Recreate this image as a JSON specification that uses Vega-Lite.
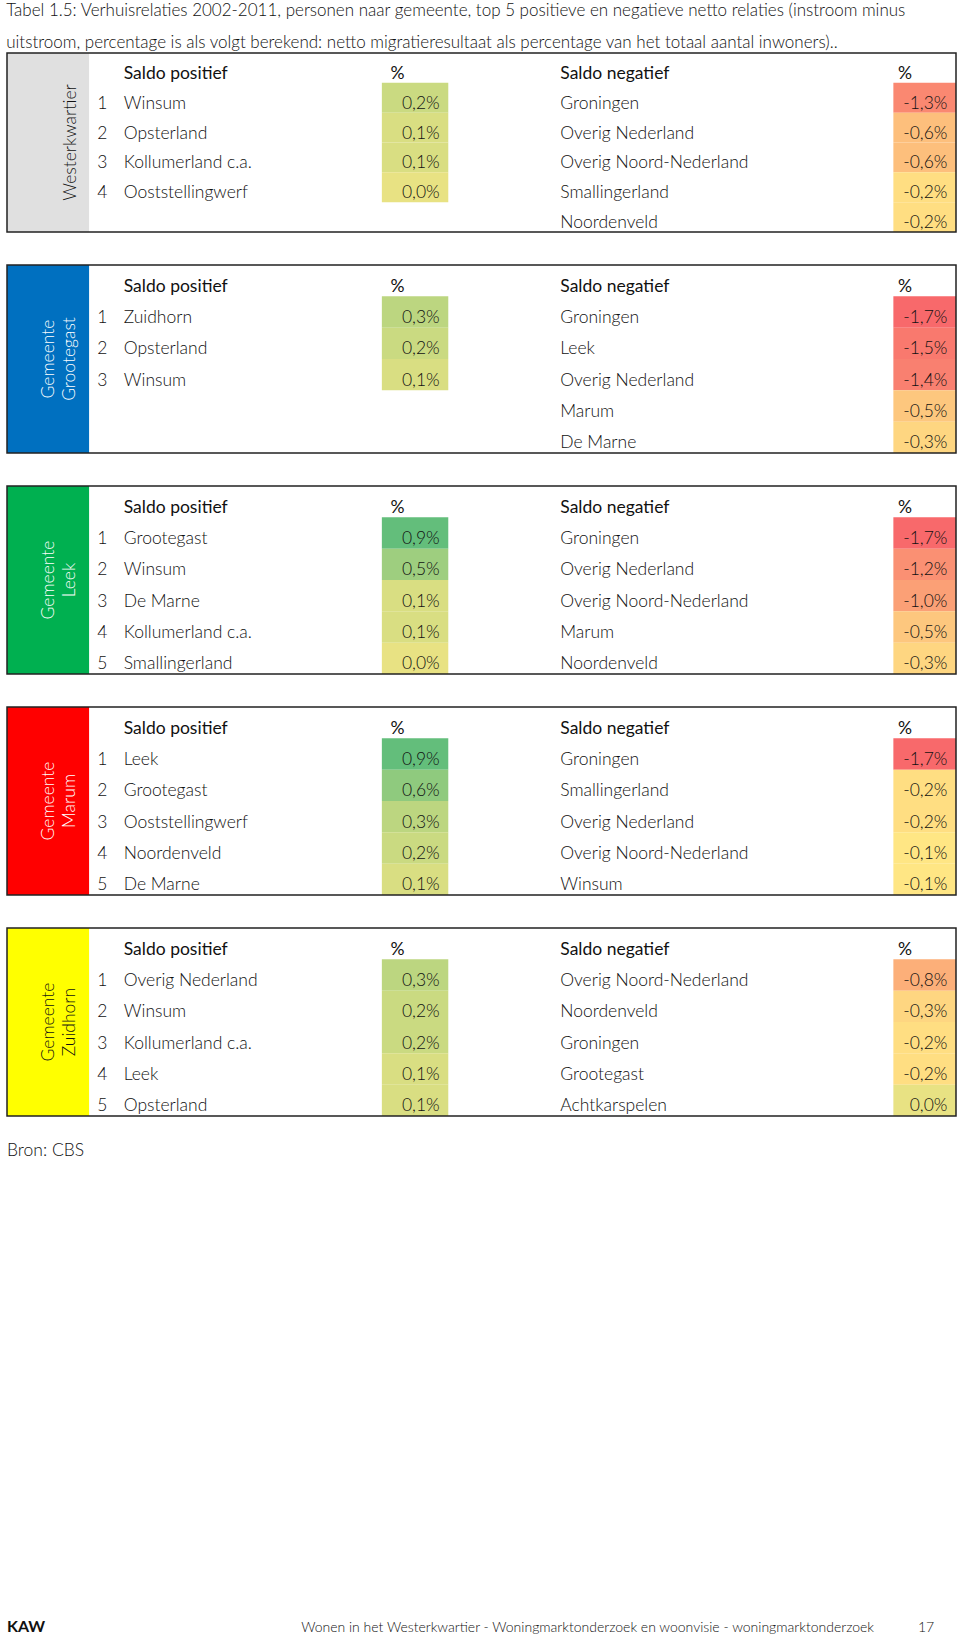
{
"$schema": "https://vega.github.io/schema/vega-lite/v6.json",
"padding": {"left": 6, "right": 5, "top": 2, "bottom": 0},
"bounds": "flush",
"background": "white",
"title": {"text": ["Tabel 1.5: Verhuisrelaties 2002-2011, personen naar gemeente, top 5 positieve en negatieve netto relaties (instroom minus", "uitstroom, percentage is als volgt berekend: netto migratieresultaat als percentage van het totaal aantal inwoners).."], "anchor": "start", "font": "Lato", "fontSize": 17, "fontWeight": 300, "color": "#111", "lineHeight": 32, "offset": 0},
"datasets": {"rows": [
{"block": "Westerkwartier", "side": "pos", "rank": 1, "name": "Winsum", "value": 0.002},
{"block": "Westerkwartier", "side": "pos", "rank": 2, "name": "Opsterland", "value": 0.001},
{"block": "Westerkwartier", "side": "pos", "rank": 3, "name": "Kollumerland c.a.", "value": 0.001},
{"block": "Westerkwartier", "side": "pos", "rank": 4, "name": "Ooststellingwerf", "value": 0.0},
{"block": "Westerkwartier", "side": "neg", "rank": 1, "name": "Groningen", "value": -0.013},
{"block": "Westerkwartier", "side": "neg", "rank": 2, "name": "Overig Nederland", "value": -0.006},
{"block": "Westerkwartier", "side": "neg", "rank": 3, "name": "Overig Noord-Nederland", "value": -0.006},
{"block": "Westerkwartier", "side": "neg", "rank": 4, "name": "Smallingerland", "value": -0.002},
{"block": "Westerkwartier", "side": "neg", "rank": 5, "name": "Noordenveld", "value": -0.002},
{"block": "Grootegast", "side": "pos", "rank": 1, "name": "Zuidhorn", "value": 0.003},
{"block": "Grootegast", "side": "pos", "rank": 2, "name": "Opsterland", "value": 0.002},
{"block": "Grootegast", "side": "pos", "rank": 3, "name": "Winsum", "value": 0.001},
{"block": "Grootegast", "side": "neg", "rank": 1, "name": "Groningen", "value": -0.017},
{"block": "Grootegast", "side": "neg", "rank": 2, "name": "Leek", "value": -0.015},
{"block": "Grootegast", "side": "neg", "rank": 3, "name": "Overig Nederland", "value": -0.014},
{"block": "Grootegast", "side": "neg", "rank": 4, "name": "Marum", "value": -0.005},
{"block": "Grootegast", "side": "neg", "rank": 5, "name": "De Marne", "value": -0.003},
{"block": "Leek", "side": "pos", "rank": 1, "name": "Grootegast", "value": 0.009},
{"block": "Leek", "side": "pos", "rank": 2, "name": "Winsum", "value": 0.005},
{"block": "Leek", "side": "pos", "rank": 3, "name": "De Marne", "value": 0.001},
{"block": "Leek", "side": "pos", "rank": 4, "name": "Kollumerland c.a.", "value": 0.001},
{"block": "Leek", "side": "pos", "rank": 5, "name": "Smallingerland", "value": 0.0},
{"block": "Leek", "side": "neg", "rank": 1, "name": "Groningen", "value": -0.017},
{"block": "Leek", "side": "neg", "rank": 2, "name": "Overig Nederland", "value": -0.012},
{"block": "Leek", "side": "neg", "rank": 3, "name": "Overig Noord-Nederland", "value": -0.010},
{"block": "Leek", "side": "neg", "rank": 4, "name": "Marum", "value": -0.005},
{"block": "Leek", "side": "neg", "rank": 5, "name": "Noordenveld", "value": -0.003},
{"block": "Marum", "side": "pos", "rank": 1, "name": "Leek", "value": 0.009},
{"block": "Marum", "side": "pos", "rank": 2, "name": "Grootegast", "value": 0.006},
{"block": "Marum", "side": "pos", "rank": 3, "name": "Ooststellingwerf", "value": 0.003},
{"block": "Marum", "side": "pos", "rank": 4, "name": "Noordenveld", "value": 0.002},
{"block": "Marum", "side": "pos", "rank": 5, "name": "De Marne", "value": 0.001},
{"block": "Marum", "side": "neg", "rank": 1, "name": "Groningen", "value": -0.017},
{"block": "Marum", "side": "neg", "rank": 2, "name": "Smallingerland", "value": -0.002},
{"block": "Marum", "side": "neg", "rank": 3, "name": "Overig Nederland", "value": -0.002},
{"block": "Marum", "side": "neg", "rank": 4, "name": "Overig Noord-Nederland", "value": -0.001},
{"block": "Marum", "side": "neg", "rank": 5, "name": "Winsum", "value": -0.001},
{"block": "Zuidhorn", "side": "pos", "rank": 1, "name": "Overig Nederland", "value": 0.003},
{"block": "Zuidhorn", "side": "pos", "rank": 2, "name": "Winsum", "value": 0.002},
{"block": "Zuidhorn", "side": "pos", "rank": 3, "name": "Kollumerland c.a.", "value": 0.002},
{"block": "Zuidhorn", "side": "pos", "rank": 4, "name": "Leek", "value": 0.001},
{"block": "Zuidhorn", "side": "pos", "rank": 5, "name": "Opsterland", "value": 0.001},
{"block": "Zuidhorn", "side": "neg", "rank": 1, "name": "Overig Noord-Nederland", "value": -0.008},
{"block": "Zuidhorn", "side": "neg", "rank": 2, "name": "Noordenveld", "value": -0.003},
{"block": "Zuidhorn", "side": "neg", "rank": 3, "name": "Groningen", "value": -0.002},
{"block": "Zuidhorn", "side": "neg", "rank": 4, "name": "Grootegast", "value": -0.002},
{"block": "Zuidhorn", "side": "neg", "rank": 5, "name": "Achtkarspelen", "value": 0.0}
]},
"spacing": 33,
"vconcat": [
{"width": 949, "height": 179,
 "layer": [
  {"data": {"values": [{}]}, "mark": {"type": "rect", "fill": "#E0E0E0"}, "encoding": {"x": {"datum": 0, "type": "quantitative", "scale": {"domain": [0, 100], "nice": false, "zero": false}, "axis": null}, "x2": {"datum": 8.65}}},
  {"data": {"values": [{}]}, "mark": {"type": "text", "text": ["Westerkwartier"], "angle": 270, "align": "center", "baseline": "bottom", "lineHeight": 21, "fontSize": 17.5, "fill": "#111", "fontWeight": 300}, "encoding": {"x": {"datum": 7.69, "type": "quantitative"}}},
  {"data": {"values": [{"rank": 0, "a": "Saldo positief"}]}, "mark": {"type": "text", "align": "left", "baseline": "alphabetic", "dy": 11}, "encoding": {"x": {"datum": 12.3, "type": "quantitative"}, "y": {"field": "rank", "type": "ordinal", "scale": {"type": "band", "domain": [0, 1, 2, 3, 4, 5], "paddingInner": 0, "paddingOuter": 0}, "axis": null}, "text": {"field": "a"}}},
  {"data": {"values": [{"rank": 0, "b": "%"}]}, "mark": {"type": "text", "align": "left", "baseline": "alphabetic", "dy": 11}, "encoding": {"x": {"datum": 40.4, "type": "quantitative"}, "y": {"field": "rank", "type": "ordinal"}, "text": {"field": "b"}}},
  {"data": {"values": [{"rank": 0, "c": "Saldo negatief"}]}, "mark": {"type": "text", "align": "left", "baseline": "alphabetic", "dy": 11}, "encoding": {"x": {"datum": 58.3, "type": "quantitative"}, "y": {"field": "rank", "type": "ordinal"}, "text": {"field": "c"}}},
  {"data": {"values": [{"rank": 0, "b": "%"}]}, "mark": {"type": "text", "align": "left", "baseline": "alphabetic", "dy": 11}, "encoding": {"x": {"datum": 93.9, "type": "quantitative"}, "y": {"field": "rank", "type": "ordinal"}, "text": {"field": "b"}}},
  {"data": {"name": "rows"}, "transform": [{"filter": "datum.block === 'Westerkwartier' && datum.side === 'pos'"}], "mark": {"type": "rect"}, "encoding": {"x": {"datum": 39.5, "type": "quantitative"}, "x2": {"datum": 46.5}, "y": {"field": "rank", "type": "ordinal"}, "color": {"field": "value", "type": "quantitative", "scale": {"domain": [-0.017, -0.001, 0.0, 0.009], "range": ["#F8696B", "#FFE684", "#E8E283", "#63BE7B"], "interpolate": "rgb"}, "legend": null}}},
  {"data": {"name": "rows"}, "transform": [{"filter": "datum.block === 'Westerkwartier' && datum.side === 'neg'"}], "mark": {"type": "rect"}, "encoding": {"x": {"datum": 93.4, "type": "quantitative"}, "x2": {"datum": 100}, "y": {"field": "rank", "type": "ordinal"}, "color": {"field": "value", "type": "quantitative", "legend": null}}},
  {"data": {"name": "rows"}, "transform": [{"filter": "datum.block === 'Westerkwartier' && datum.side === 'pos'"}], "mark": {"type": "text", "align": "left", "baseline": "alphabetic", "dy": 11, "fontWeight": 300}, "encoding": {"x": {"datum": 9.5, "type": "quantitative"}, "y": {"field": "rank", "type": "ordinal"}, "text": {"field": "rank", "type": "nominal"}}},
  {"data": {"name": "rows"}, "transform": [{"filter": "datum.block === 'Westerkwartier' && datum.side === 'pos'"}], "mark": {"type": "text", "align": "left", "baseline": "alphabetic", "dy": 11, "fontWeight": 300}, "encoding": {"x": {"datum": 12.3, "type": "quantitative"}, "y": {"field": "rank", "type": "ordinal"}, "text": {"field": "name", "type": "nominal"}}},
  {"data": {"name": "rows"}, "transform": [{"filter": "datum.block === 'Westerkwartier' && datum.side === 'pos'"}, {"calculate": "replace(replace(format(datum.value, '.1%'), '.', ','), '\u2212', '-')", "as": "label"}], "mark": {"type": "text", "align": "right", "baseline": "alphabetic", "dy": 11, "fontWeight": 300}, "encoding": {"x": {"datum": 45.6, "type": "quantitative"}, "y": {"field": "rank", "type": "ordinal"}, "text": {"field": "label", "type": "nominal"}}},
  {"data": {"name": "rows"}, "transform": [{"filter": "datum.block === 'Westerkwartier' && datum.side === 'neg'"}], "mark": {"type": "text", "align": "left", "baseline": "alphabetic", "dy": 11, "fontWeight": 300}, "encoding": {"x": {"datum": 58.3, "type": "quantitative"}, "y": {"field": "rank", "type": "ordinal"}, "text": {"field": "name", "type": "nominal"}}},
  {"data": {"name": "rows"}, "transform": [{"filter": "datum.block === 'Westerkwartier' && datum.side === 'neg'"}, {"calculate": "replace(replace(format(datum.value, '.1%'), '.', ','), '\u2212', '-')", "as": "label"}], "mark": {"type": "text", "align": "right", "baseline": "alphabetic", "dy": 11, "fontWeight": 300}, "encoding": {"x": {"datum": 99.1, "type": "quantitative"}, "y": {"field": "rank", "type": "ordinal"}, "text": {"field": "label", "type": "nominal"}}},
  {"data": {"values": [{}]}, "mark": {"type": "rect", "fill": "transparent", "stroke": "#222", "strokeWidth": 1.5}, "encoding": {"x": {"datum": 0, "type": "quantitative"}, "x2": {"datum": 100}}}
 ]},
{"width": 949, "height": 188,
 "layer": [
  {"data": {"values": [{}]}, "mark": {"type": "rect", "fill": "#0070C0"}, "encoding": {"x": {"datum": 0, "type": "quantitative", "scale": {"domain": [0, 100], "nice": false, "zero": false}, "axis": null}, "x2": {"datum": 8.65}}},
  {"data": {"values": [{}]}, "mark": {"type": "text", "text": ["Gemeente", "Grootegast"], "angle": 270, "align": "center", "baseline": "bottom", "lineHeight": 21, "fontSize": 17.5, "fill": "#FFFFFF", "fontWeight": 300}, "encoding": {"x": {"datum": 5.37, "type": "quantitative"}}},
  {"data": {"values": [{"rank": 0, "a": "Saldo positief"}]}, "mark": {"type": "text", "align": "left", "baseline": "alphabetic", "dy": 11}, "encoding": {"x": {"datum": 12.3, "type": "quantitative"}, "y": {"field": "rank", "type": "ordinal", "scale": {"type": "band", "domain": [0, 1, 2, 3, 4, 5], "paddingInner": 0, "paddingOuter": 0}, "axis": null}, "text": {"field": "a"}}},
  {"data": {"values": [{"rank": 0, "b": "%"}]}, "mark": {"type": "text", "align": "left", "baseline": "alphabetic", "dy": 11}, "encoding": {"x": {"datum": 40.4, "type": "quantitative"}, "y": {"field": "rank", "type": "ordinal"}, "text": {"field": "b"}}},
  {"data": {"values": [{"rank": 0, "c": "Saldo negatief"}]}, "mark": {"type": "text", "align": "left", "baseline": "alphabetic", "dy": 11}, "encoding": {"x": {"datum": 58.3, "type": "quantitative"}, "y": {"field": "rank", "type": "ordinal"}, "text": {"field": "c"}}},
  {"data": {"values": [{"rank": 0, "b": "%"}]}, "mark": {"type": "text", "align": "left", "baseline": "alphabetic", "dy": 11}, "encoding": {"x": {"datum": 93.9, "type": "quantitative"}, "y": {"field": "rank", "type": "ordinal"}, "text": {"field": "b"}}},
  {"data": {"name": "rows"}, "transform": [{"filter": "datum.block === 'Grootegast' && datum.side === 'pos'"}], "mark": {"type": "rect"}, "encoding": {"x": {"datum": 39.5, "type": "quantitative"}, "x2": {"datum": 46.5}, "y": {"field": "rank", "type": "ordinal"}, "color": {"field": "value", "type": "quantitative", "scale": {"domain": [-0.017, -0.001, 0.0, 0.009], "range": ["#F8696B", "#FFE684", "#E8E283", "#63BE7B"], "interpolate": "rgb"}, "legend": null}}},
  {"data": {"name": "rows"}, "transform": [{"filter": "datum.block === 'Grootegast' && datum.side === 'neg'"}], "mark": {"type": "rect"}, "encoding": {"x": {"datum": 93.4, "type": "quantitative"}, "x2": {"datum": 100}, "y": {"field": "rank", "type": "ordinal"}, "color": {"field": "value", "type": "quantitative", "legend": null}}},
  {"data": {"name": "rows"}, "transform": [{"filter": "datum.block === 'Grootegast' && datum.side === 'pos'"}], "mark": {"type": "text", "align": "left", "baseline": "alphabetic", "dy": 11, "fontWeight": 300}, "encoding": {"x": {"datum": 9.5, "type": "quantitative"}, "y": {"field": "rank", "type": "ordinal"}, "text": {"field": "rank", "type": "nominal"}}},
  {"data": {"name": "rows"}, "transform": [{"filter": "datum.block === 'Grootegast' && datum.side === 'pos'"}], "mark": {"type": "text", "align": "left", "baseline": "alphabetic", "dy": 11, "fontWeight": 300}, "encoding": {"x": {"datum": 12.3, "type": "quantitative"}, "y": {"field": "rank", "type": "ordinal"}, "text": {"field": "name", "type": "nominal"}}},
  {"data": {"name": "rows"}, "transform": [{"filter": "datum.block === 'Grootegast' && datum.side === 'pos'"}, {"calculate": "replace(replace(format(datum.value, '.1%'), '.', ','), '\u2212', '-')", "as": "label"}], "mark": {"type": "text", "align": "right", "baseline": "alphabetic", "dy": 11, "fontWeight": 300}, "encoding": {"x": {"datum": 45.6, "type": "quantitative"}, "y": {"field": "rank", "type": "ordinal"}, "text": {"field": "label", "type": "nominal"}}},
  {"data": {"name": "rows"}, "transform": [{"filter": "datum.block === 'Grootegast' && datum.side === 'neg'"}], "mark": {"type": "text", "align": "left", "baseline": "alphabetic", "dy": 11, "fontWeight": 300}, "encoding": {"x": {"datum": 58.3, "type": "quantitative"}, "y": {"field": "rank", "type": "ordinal"}, "text": {"field": "name", "type": "nominal"}}},
  {"data": {"name": "rows"}, "transform": [{"filter": "datum.block === 'Grootegast' && datum.side === 'neg'"}, {"calculate": "replace(replace(format(datum.value, '.1%'), '.', ','), '\u2212', '-')", "as": "label"}], "mark": {"type": "text", "align": "right", "baseline": "alphabetic", "dy": 11, "fontWeight": 300}, "encoding": {"x": {"datum": 99.1, "type": "quantitative"}, "y": {"field": "rank", "type": "ordinal"}, "text": {"field": "label", "type": "nominal"}}},
  {"data": {"values": [{}]}, "mark": {"type": "rect", "fill": "transparent", "stroke": "#222", "strokeWidth": 1.5}, "encoding": {"x": {"datum": 0, "type": "quantitative"}, "x2": {"datum": 100}}}
 ]},
{"width": 949, "height": 188,
 "layer": [
  {"data": {"values": [{}]}, "mark": {"type": "rect", "fill": "#00B050"}, "encoding": {"x": {"datum": 0, "type": "quantitative", "scale": {"domain": [0, 100], "nice": false, "zero": false}, "axis": null}, "x2": {"datum": 8.65}}},
  {"data": {"values": [{}]}, "mark": {"type": "text", "text": ["Gemeente", "Leek"], "angle": 270, "align": "center", "baseline": "bottom", "lineHeight": 21, "fontSize": 17.5, "fill": "#FFFFFF", "fontWeight": 300}, "encoding": {"x": {"datum": 5.37, "type": "quantitative"}}},
  {"data": {"values": [{"rank": 0, "a": "Saldo positief"}]}, "mark": {"type": "text", "align": "left", "baseline": "alphabetic", "dy": 11}, "encoding": {"x": {"datum": 12.3, "type": "quantitative"}, "y": {"field": "rank", "type": "ordinal", "scale": {"type": "band", "domain": [0, 1, 2, 3, 4, 5], "paddingInner": 0, "paddingOuter": 0}, "axis": null}, "text": {"field": "a"}}},
  {"data": {"values": [{"rank": 0, "b": "%"}]}, "mark": {"type": "text", "align": "left", "baseline": "alphabetic", "dy": 11}, "encoding": {"x": {"datum": 40.4, "type": "quantitative"}, "y": {"field": "rank", "type": "ordinal"}, "text": {"field": "b"}}},
  {"data": {"values": [{"rank": 0, "c": "Saldo negatief"}]}, "mark": {"type": "text", "align": "left", "baseline": "alphabetic", "dy": 11}, "encoding": {"x": {"datum": 58.3, "type": "quantitative"}, "y": {"field": "rank", "type": "ordinal"}, "text": {"field": "c"}}},
  {"data": {"values": [{"rank": 0, "b": "%"}]}, "mark": {"type": "text", "align": "left", "baseline": "alphabetic", "dy": 11}, "encoding": {"x": {"datum": 93.9, "type": "quantitative"}, "y": {"field": "rank", "type": "ordinal"}, "text": {"field": "b"}}},
  {"data": {"name": "rows"}, "transform": [{"filter": "datum.block === 'Leek' && datum.side === 'pos'"}], "mark": {"type": "rect"}, "encoding": {"x": {"datum": 39.5, "type": "quantitative"}, "x2": {"datum": 46.5}, "y": {"field": "rank", "type": "ordinal"}, "color": {"field": "value", "type": "quantitative", "scale": {"domain": [-0.017, -0.001, 0.0, 0.009], "range": ["#F8696B", "#FFE684", "#E8E283", "#63BE7B"], "interpolate": "rgb"}, "legend": null}}},
  {"data": {"name": "rows"}, "transform": [{"filter": "datum.block === 'Leek' && datum.side === 'neg'"}], "mark": {"type": "rect"}, "encoding": {"x": {"datum": 93.4, "type": "quantitative"}, "x2": {"datum": 100}, "y": {"field": "rank", "type": "ordinal"}, "color": {"field": "value", "type": "quantitative", "legend": null}}},
  {"data": {"name": "rows"}, "transform": [{"filter": "datum.block === 'Leek' && datum.side === 'pos'"}], "mark": {"type": "text", "align": "left", "baseline": "alphabetic", "dy": 11, "fontWeight": 300}, "encoding": {"x": {"datum": 9.5, "type": "quantitative"}, "y": {"field": "rank", "type": "ordinal"}, "text": {"field": "rank", "type": "nominal"}}},
  {"data": {"name": "rows"}, "transform": [{"filter": "datum.block === 'Leek' && datum.side === 'pos'"}], "mark": {"type": "text", "align": "left", "baseline": "alphabetic", "dy": 11, "fontWeight": 300}, "encoding": {"x": {"datum": 12.3, "type": "quantitative"}, "y": {"field": "rank", "type": "ordinal"}, "text": {"field": "name", "type": "nominal"}}},
  {"data": {"name": "rows"}, "transform": [{"filter": "datum.block === 'Leek' && datum.side === 'pos'"}, {"calculate": "replace(replace(format(datum.value, '.1%'), '.', ','), '\u2212', '-')", "as": "label"}], "mark": {"type": "text", "align": "right", "baseline": "alphabetic", "dy": 11, "fontWeight": 300}, "encoding": {"x": {"datum": 45.6, "type": "quantitative"}, "y": {"field": "rank", "type": "ordinal"}, "text": {"field": "label", "type": "nominal"}}},
  {"data": {"name": "rows"}, "transform": [{"filter": "datum.block === 'Leek' && datum.side === 'neg'"}], "mark": {"type": "text", "align": "left", "baseline": "alphabetic", "dy": 11, "fontWeight": 300}, "encoding": {"x": {"datum": 58.3, "type": "quantitative"}, "y": {"field": "rank", "type": "ordinal"}, "text": {"field": "name", "type": "nominal"}}},
  {"data": {"name": "rows"}, "transform": [{"filter": "datum.block === 'Leek' && datum.side === 'neg'"}, {"calculate": "replace(replace(format(datum.value, '.1%'), '.', ','), '\u2212', '-')", "as": "label"}], "mark": {"type": "text", "align": "right", "baseline": "alphabetic", "dy": 11, "fontWeight": 300}, "encoding": {"x": {"datum": 99.1, "type": "quantitative"}, "y": {"field": "rank", "type": "ordinal"}, "text": {"field": "label", "type": "nominal"}}},
  {"data": {"values": [{}]}, "mark": {"type": "rect", "fill": "transparent", "stroke": "#222", "strokeWidth": 1.5}, "encoding": {"x": {"datum": 0, "type": "quantitative"}, "x2": {"datum": 100}}}
 ]},
{"width": 949, "height": 188,
 "layer": [
  {"data": {"values": [{}]}, "mark": {"type": "rect", "fill": "#FF0000"}, "encoding": {"x": {"datum": 0, "type": "quantitative", "scale": {"domain": [0, 100], "nice": false, "zero": false}, "axis": null}, "x2": {"datum": 8.65}}},
  {"data": {"values": [{}]}, "mark": {"type": "text", "text": ["Gemeente", "Marum"], "angle": 270, "align": "center", "baseline": "bottom", "lineHeight": 21, "fontSize": 17.5, "fill": "#FFFFFF", "fontWeight": 300}, "encoding": {"x": {"datum": 5.37, "type": "quantitative"}}},
  {"data": {"values": [{"rank": 0, "a": "Saldo positief"}]}, "mark": {"type": "text", "align": "left", "baseline": "alphabetic", "dy": 11}, "encoding": {"x": {"datum": 12.3, "type": "quantitative"}, "y": {"field": "rank", "type": "ordinal", "scale": {"type": "band", "domain": [0, 1, 2, 3, 4, 5], "paddingInner": 0, "paddingOuter": 0}, "axis": null}, "text": {"field": "a"}}},
  {"data": {"values": [{"rank": 0, "b": "%"}]}, "mark": {"type": "text", "align": "left", "baseline": "alphabetic", "dy": 11}, "encoding": {"x": {"datum": 40.4, "type": "quantitative"}, "y": {"field": "rank", "type": "ordinal"}, "text": {"field": "b"}}},
  {"data": {"values": [{"rank": 0, "c": "Saldo negatief"}]}, "mark": {"type": "text", "align": "left", "baseline": "alphabetic", "dy": 11}, "encoding": {"x": {"datum": 58.3, "type": "quantitative"}, "y": {"field": "rank", "type": "ordinal"}, "text": {"field": "c"}}},
  {"data": {"values": [{"rank": 0, "b": "%"}]}, "mark": {"type": "text", "align": "left", "baseline": "alphabetic", "dy": 11}, "encoding": {"x": {"datum": 93.9, "type": "quantitative"}, "y": {"field": "rank", "type": "ordinal"}, "text": {"field": "b"}}},
  {"data": {"name": "rows"}, "transform": [{"filter": "datum.block === 'Marum' && datum.side === 'pos'"}], "mark": {"type": "rect"}, "encoding": {"x": {"datum": 39.5, "type": "quantitative"}, "x2": {"datum": 46.5}, "y": {"field": "rank", "type": "ordinal"}, "color": {"field": "value", "type": "quantitative", "scale": {"domain": [-0.017, -0.001, 0.0, 0.009], "range": ["#F8696B", "#FFE684", "#E8E283", "#63BE7B"], "interpolate": "rgb"}, "legend": null}}},
  {"data": {"name": "rows"}, "transform": [{"filter": "datum.block === 'Marum' && datum.side === 'neg'"}], "mark": {"type": "rect"}, "encoding": {"x": {"datum": 93.4, "type": "quantitative"}, "x2": {"datum": 100}, "y": {"field": "rank", "type": "ordinal"}, "color": {"field": "value", "type": "quantitative", "legend": null}}},
  {"data": {"name": "rows"}, "transform": [{"filter": "datum.block === 'Marum' && datum.side === 'pos'"}], "mark": {"type": "text", "align": "left", "baseline": "alphabetic", "dy": 11, "fontWeight": 300}, "encoding": {"x": {"datum": 9.5, "type": "quantitative"}, "y": {"field": "rank", "type": "ordinal"}, "text": {"field": "rank", "type": "nominal"}}},
  {"data": {"name": "rows"}, "transform": [{"filter": "datum.block === 'Marum' && datum.side === 'pos'"}], "mark": {"type": "text", "align": "left", "baseline": "alphabetic", "dy": 11, "fontWeight": 300}, "encoding": {"x": {"datum": 12.3, "type": "quantitative"}, "y": {"field": "rank", "type": "ordinal"}, "text": {"field": "name", "type": "nominal"}}},
  {"data": {"name": "rows"}, "transform": [{"filter": "datum.block === 'Marum' && datum.side === 'pos'"}, {"calculate": "replace(replace(format(datum.value, '.1%'), '.', ','), '\u2212', '-')", "as": "label"}], "mark": {"type": "text", "align": "right", "baseline": "alphabetic", "dy": 11, "fontWeight": 300}, "encoding": {"x": {"datum": 45.6, "type": "quantitative"}, "y": {"field": "rank", "type": "ordinal"}, "text": {"field": "label", "type": "nominal"}}},
  {"data": {"name": "rows"}, "transform": [{"filter": "datum.block === 'Marum' && datum.side === 'neg'"}], "mark": {"type": "text", "align": "left", "baseline": "alphabetic", "dy": 11, "fontWeight": 300}, "encoding": {"x": {"datum": 58.3, "type": "quantitative"}, "y": {"field": "rank", "type": "ordinal"}, "text": {"field": "name", "type": "nominal"}}},
  {"data": {"name": "rows"}, "transform": [{"filter": "datum.block === 'Marum' && datum.side === 'neg'"}, {"calculate": "replace(replace(format(datum.value, '.1%'), '.', ','), '\u2212', '-')", "as": "label"}], "mark": {"type": "text", "align": "right", "baseline": "alphabetic", "dy": 11, "fontWeight": 300}, "encoding": {"x": {"datum": 99.1, "type": "quantitative"}, "y": {"field": "rank", "type": "ordinal"}, "text": {"field": "label", "type": "nominal"}}},
  {"data": {"values": [{}]}, "mark": {"type": "rect", "fill": "transparent", "stroke": "#222", "strokeWidth": 1.5}, "encoding": {"x": {"datum": 0, "type": "quantitative"}, "x2": {"datum": 100}}}
 ]},
{"width": 949, "height": 188,
 "layer": [
  {"data": {"values": [{}]}, "mark": {"type": "rect", "fill": "#FFFF00"}, "encoding": {"x": {"datum": 0, "type": "quantitative", "scale": {"domain": [0, 100], "nice": false, "zero": false}, "axis": null}, "x2": {"datum": 8.65}}},
  {"data": {"values": [{}]}, "mark": {"type": "text", "text": ["Gemeente", "Zuidhorn"], "angle": 270, "align": "center", "baseline": "bottom", "lineHeight": 21, "fontSize": 17.5, "fill": "#111", "fontWeight": 300}, "encoding": {"x": {"datum": 5.37, "type": "quantitative"}}},
  {"data": {"values": [{"rank": 0, "a": "Saldo positief"}]}, "mark": {"type": "text", "align": "left", "baseline": "alphabetic", "dy": 11}, "encoding": {"x": {"datum": 12.3, "type": "quantitative"}, "y": {"field": "rank", "type": "ordinal", "scale": {"type": "band", "domain": [0, 1, 2, 3, 4, 5], "paddingInner": 0, "paddingOuter": 0}, "axis": null}, "text": {"field": "a"}}},
  {"data": {"values": [{"rank": 0, "b": "%"}]}, "mark": {"type": "text", "align": "left", "baseline": "alphabetic", "dy": 11}, "encoding": {"x": {"datum": 40.4, "type": "quantitative"}, "y": {"field": "rank", "type": "ordinal"}, "text": {"field": "b"}}},
  {"data": {"values": [{"rank": 0, "c": "Saldo negatief"}]}, "mark": {"type": "text", "align": "left", "baseline": "alphabetic", "dy": 11}, "encoding": {"x": {"datum": 58.3, "type": "quantitative"}, "y": {"field": "rank", "type": "ordinal"}, "text": {"field": "c"}}},
  {"data": {"values": [{"rank": 0, "b": "%"}]}, "mark": {"type": "text", "align": "left", "baseline": "alphabetic", "dy": 11}, "encoding": {"x": {"datum": 93.9, "type": "quantitative"}, "y": {"field": "rank", "type": "ordinal"}, "text": {"field": "b"}}},
  {"data": {"name": "rows"}, "transform": [{"filter": "datum.block === 'Zuidhorn' && datum.side === 'pos'"}], "mark": {"type": "rect"}, "encoding": {"x": {"datum": 39.5, "type": "quantitative"}, "x2": {"datum": 46.5}, "y": {"field": "rank", "type": "ordinal"}, "color": {"field": "value", "type": "quantitative", "scale": {"domain": [-0.017, -0.001, 0.0, 0.009], "range": ["#F8696B", "#FFE684", "#E8E283", "#63BE7B"], "interpolate": "rgb"}, "legend": null}}},
  {"data": {"name": "rows"}, "transform": [{"filter": "datum.block === 'Zuidhorn' && datum.side === 'neg'"}], "mark": {"type": "rect"}, "encoding": {"x": {"datum": 93.4, "type": "quantitative"}, "x2": {"datum": 100}, "y": {"field": "rank", "type": "ordinal"}, "color": {"field": "value", "type": "quantitative", "legend": null}}},
  {"data": {"name": "rows"}, "transform": [{"filter": "datum.block === 'Zuidhorn' && datum.side === 'pos'"}], "mark": {"type": "text", "align": "left", "baseline": "alphabetic", "dy": 11, "fontWeight": 300}, "encoding": {"x": {"datum": 9.5, "type": "quantitative"}, "y": {"field": "rank", "type": "ordinal"}, "text": {"field": "rank", "type": "nominal"}}},
  {"data": {"name": "rows"}, "transform": [{"filter": "datum.block === 'Zuidhorn' && datum.side === 'pos'"}], "mark": {"type": "text", "align": "left", "baseline": "alphabetic", "dy": 11, "fontWeight": 300}, "encoding": {"x": {"datum": 12.3, "type": "quantitative"}, "y": {"field": "rank", "type": "ordinal"}, "text": {"field": "name", "type": "nominal"}}},
  {"data": {"name": "rows"}, "transform": [{"filter": "datum.block === 'Zuidhorn' && datum.side === 'pos'"}, {"calculate": "replace(replace(format(datum.value, '.1%'), '.', ','), '\u2212', '-')", "as": "label"}], "mark": {"type": "text", "align": "right", "baseline": "alphabetic", "dy": 11, "fontWeight": 300}, "encoding": {"x": {"datum": 45.6, "type": "quantitative"}, "y": {"field": "rank", "type": "ordinal"}, "text": {"field": "label", "type": "nominal"}}},
  {"data": {"name": "rows"}, "transform": [{"filter": "datum.block === 'Zuidhorn' && datum.side === 'neg'"}], "mark": {"type": "text", "align": "left", "baseline": "alphabetic", "dy": 11, "fontWeight": 300}, "encoding": {"x": {"datum": 58.3, "type": "quantitative"}, "y": {"field": "rank", "type": "ordinal"}, "text": {"field": "name", "type": "nominal"}}},
  {"data": {"name": "rows"}, "transform": [{"filter": "datum.block === 'Zuidhorn' && datum.side === 'neg'"}, {"calculate": "replace(replace(format(datum.value, '.1%'), '.', ','), '\u2212', '-')", "as": "label"}], "mark": {"type": "text", "align": "right", "baseline": "alphabetic", "dy": 11, "fontWeight": 300}, "encoding": {"x": {"datum": 99.1, "type": "quantitative"}, "y": {"field": "rank", "type": "ordinal"}, "text": {"field": "label", "type": "nominal"}}},
  {"data": {"values": [{}]}, "mark": {"type": "rect", "fill": "transparent", "stroke": "#222", "strokeWidth": 1.5}, "encoding": {"x": {"datum": 0, "type": "quantitative"}, "x2": {"datum": 100}}}
 ]},
{"width": 949, "height": 480,
 "layer": [
  {"data": {"values": [{"t": "Bron: CBS", "p": 1}]}, "mark": {"type": "text", "align": "left", "baseline": "alphabetic", "dy": 7, "fontWeight": 300}, "encoding": {"x": {"datum": 0, "type": "quantitative", "scale": {"domain": [0, 100], "nice": false, "zero": false}, "axis": null}, "y": {"field": "p", "type": "quantitative", "scale": {"domain": [0, 1], "nice": false, "zero": false}, "axis": null}, "text": {"field": "t"}}},
  {"data": {"values": [{"t": "KAW", "p": 0}]}, "mark": {"type": "text", "align": "left", "baseline": "alphabetic", "dy": 3, "fontWeight": "bold", "fontSize": 16}, "encoding": {"x": {"datum": 0, "type": "quantitative"}, "y": {"field": "p", "type": "quantitative"}, "text": {"field": "t"}}},
  {"data": {"values": [{"t": "Wonen in het Westerkwartier -  Woningmarktonderzoek en woonvisie - woningmarktonderzoek", "p": 0}]}, "mark": {"type": "text", "align": "right", "baseline": "alphabetic", "dy": 3, "fontWeight": 300, "fontSize": 14}, "encoding": {"x": {"datum": 91.36, "type": "quantitative"}, "y": {"field": "p", "type": "quantitative"}, "text": {"field": "t"}}},
  {"data": {"values": [{"t": "17", "p": 0}]}, "mark": {"type": "text", "align": "right", "baseline": "alphabetic", "dy": 3, "fontWeight": 300, "fontSize": 14}, "encoding": {"x": {"datum": 97.7, "type": "quantitative"}, "y": {"field": "p", "type": "quantitative"}, "text": {"field": "t"}}}
 ]}
],
"config": {
 "view": {"stroke": null},
 "text": {"font": "Lato", "fontSize": 17.5, "fill": "#111"}
}
}
